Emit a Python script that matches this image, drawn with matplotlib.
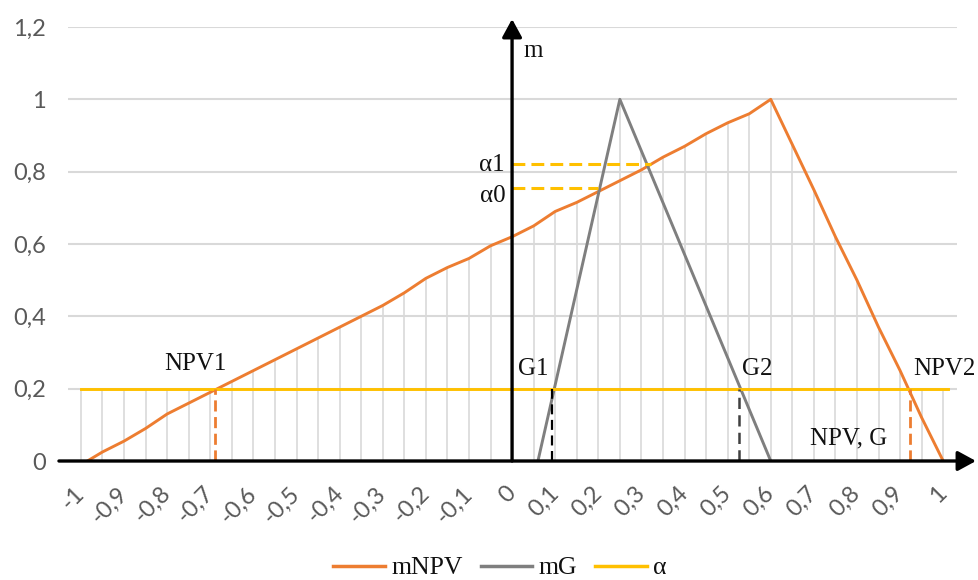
import numpy as np
import matplotlib
matplotlib.use("Agg")
import matplotlib.pyplot as plt
from matplotlib.lines import Line2D

# ---------------- data ----------------
categories = [-1.0, -0.95, -0.9, -0.85, -0.8, -0.75, -0.7, -0.65, -0.6, -0.55,
              -0.5, -0.45, -0.4, -0.35, -0.3, -0.25, -0.2, -0.15, -0.1, -0.05,
              0.0, 0.05, 0.1, 0.15, 0.2, 0.25, 0.3, 0.35, 0.4, 0.45,
              0.5, 0.55, 0.6, 0.65, 0.7, 0.75, 0.8, 0.85, 0.9, 0.95, 1.0]

npv_x = [-0.985, -0.95, -0.9, -0.85, -0.8, -0.75, -0.7, -0.65, -0.6, -0.55,
         -0.5, -0.45, -0.4, -0.35, -0.3, -0.25, -0.2, -0.15, -0.1, -0.05,
         0.0, 0.05, 0.1, 0.15, 0.2, 0.25, 0.3, 0.35, 0.4, 0.45,
         0.5, 0.55, 0.6, 0.65, 0.7, 0.75, 0.8, 0.85, 0.9, 0.95, 1.0]
npv_m = [0.0, 0.025, 0.055, 0.09, 0.13, 0.16, 0.19, 0.22, 0.25, 0.28,
         0.31, 0.34, 0.37, 0.40, 0.43, 0.465, 0.505, 0.535, 0.56, 0.595,
         0.62, 0.65, 0.69, 0.715, 0.745, 0.775, 0.805, 0.84, 0.87, 0.905,
         0.935, 0.96, 1.0, 0.875, 0.75, 0.62, 0.5, 0.37, 0.25, 0.12, 0.0]

g_x = [0.06, 0.25, 0.60]
g_m = [0.0, 1.0, 0.0]

alpha_x = [-1.0, 1.01]
alpha_level = 0.2

alpha1_level = 0.82
alpha1_x = [0.0, 0.322]
alpha0_level = 0.755
alpha0_x = [0.0, 0.20]

npv1_x = -0.69
npv2_x = 0.923
g1_x = 0.093
g2_x = 0.526

ytick_vals = [0, 0.2, 0.4, 0.6, 0.8, 1.0, 1.2]
ytick_labels = ["0", "0,2", "0,4", "0,6", "0,8", "1", "1,2"]
xtick_vals = [-1.0, -0.9, -0.8, -0.7, -0.6, -0.5, -0.4, -0.3, -0.2, -0.1,
              0.0, 0.1, 0.2, 0.3, 0.4, 0.5, 0.6, 0.7, 0.8, 0.9, 1.0]
xtick_labels = ["-1", "-0,9", "-0,8", "-0,7", "-0,6", "-0,5", "-0,4", "-0,3",
                "-0,2", "-0,1", "0", "0,1", "0,2", "0,3", "0,4", "0,5", "0,6",
                "0,7", "0,8", "0,9", "1"]

series_names = ["mNPV", "mG", "\u03b1"]

# ---------------- style ----------------
C_NPV = "#ED7D31"
C_G = "#7F7F7F"
C_A = "#FFC000"
SERIF = "Liberation Serif"
TXT = "#111111"

fig = plt.figure(figsize=(9.79, 5.8), dpi=100)
W, H = 979, 580
ax = fig.add_axes([68 / W, 1 - 461 / H, (957 - 68) / W, (461 - 27) / H])
ax.set_xlim(-1.03, 1.032)
ax.set_ylim(0, 1.2)
for s in ax.spines.values():
    s.set_visible(False)

ax.set_yticks(ytick_vals, ytick_labels)
ax.tick_params(axis="y", length=0, pad=16, labelsize=17, labelcolor="#595959")
for lab in ax.get_yticklabels():
    lab.set_family("Lato")
ax.yaxis.grid(True, color="#d9d9d9", lw=1.5, zorder=0)
ax.set_axisbelow(True)

ax.set_xticks(xtick_vals, xtick_labels, rotation=45, ha="right", va="center",
              rotation_mode="anchor")
ax.tick_params(axis="x", length=0, pad=21, labelsize=17, labelcolor="#595959")
for lab in ax.get_xticklabels():
    lab.set_family("Lato")

# drop lines (Excel style) at each category up to highest series value
cat = np.array(categories)
g_at = np.interp(cat, g_x, g_m, left=0, right=0)
npv_at = np.interp(cat, npv_x, npv_m, left=0, right=0)
a_at = np.where((cat >= alpha_x[0]) & (cat <= alpha_x[1]), alpha_level, 0)
tops = np.maximum(np.maximum(g_at, npv_at), a_at)
ax.vlines(cat, 0, tops, color="#d9d9d9", lw=1.2, zorder=1)

# series
ax.plot(npv_x, npv_m, color=C_NPV, lw=2.1, zorder=3, solid_joinstyle="round")
ax.plot(g_x, g_m, color=C_G, lw=2.1, zorder=3.1, solid_joinstyle="round")
ax.plot(alpha_x, [alpha_level, alpha_level], color=C_A, lw=2.1, zorder=3.2)

# dashed helper lines
ax.plot(alpha1_x, [alpha1_level] * 2, color=C_A, lw=2.2, dashes=(4.2, 2), zorder=3.3)
ax.plot(alpha0_x, [alpha0_level] * 2, color=C_A, lw=2.2, dashes=(4.2, 2), zorder=3.3)
ax.plot([npv1_x] * 2, [0, alpha_level], color=C_NPV, lw=2.0, dashes=(4, 2), zorder=3.3)
ax.plot([npv2_x] * 2, [0, alpha_level], color=C_NPV, lw=2.0, dashes=(4, 2), zorder=3.3)
ax.plot([g1_x] * 2, [0, alpha_level], color="black", lw=1.6, dashes=(4.5, 2.5), zorder=3.3)
ax.plot([g2_x] * 2, [0, alpha_level], color="#404040", lw=1.8, dashes=(4.5, 2.5), zorder=3.3)

# axes arrows
arrow_style = "-|>,head_length=1.1,head_width=0.6"
ax.annotate("", xy=(1.076, 0), xytext=(-1.051, 0),
            arrowprops=dict(arrowstyle=arrow_style, color="black", lw=2.4,
                            mutation_scale=10, shrinkA=0, shrinkB=0),
            annotation_clip=False, zorder=5)
ax.annotate("", xy=(0, 1.222), xytext=(0, 0),
            arrowprops=dict(arrowstyle=arrow_style, color="black", lw=2.4,
                            mutation_scale=10, shrinkA=0, shrinkB=0),
            annotation_clip=False, zorder=5)

# annotations
tk = dict(family=SERIF, fontsize=18, color=TXT, zorder=6)
ax.text(0.026, 1.135, "m", ha="left", va="center", **tk)
ax.text(-0.018, 0.819, "\u03b11", ha="right", va="center", **tk)
ax.text(-0.014, 0.732, "\u03b10", ha="right", va="center", **tk)
ax.text(-0.735, 0.267, "NPV1", ha="center", va="center", **tk)
ax.text(0.048, 0.253, "G1", ha="center", va="center", **tk)
ax.text(0.568, 0.253, "G2", ha="center", va="center", **tk)
ax.text(1.002, 0.253, "NPV2", ha="center", va="center", **tk)
ax.text(0.78, 0.062, "NPV, G", ha="center", va="center", **tk)

# legend
handles = [Line2D([], [], color=C_NPV, lw=2.5),
           Line2D([], [], color=C_G, lw=2.5),
           Line2D([], [], color=C_A, lw=2.5)]
fig.legend(handles, series_names, loc="center", bbox_to_anchor=(500 / W, 1 - 568 / H),
           ncol=3, frameon=False, prop=dict(family=SERIF, size=18.5),
           handlelength=2.0, handletextpad=0.25, columnspacing=0.7,
           labelcolor=TXT)

fig.savefig("out.png", dpi=100)
